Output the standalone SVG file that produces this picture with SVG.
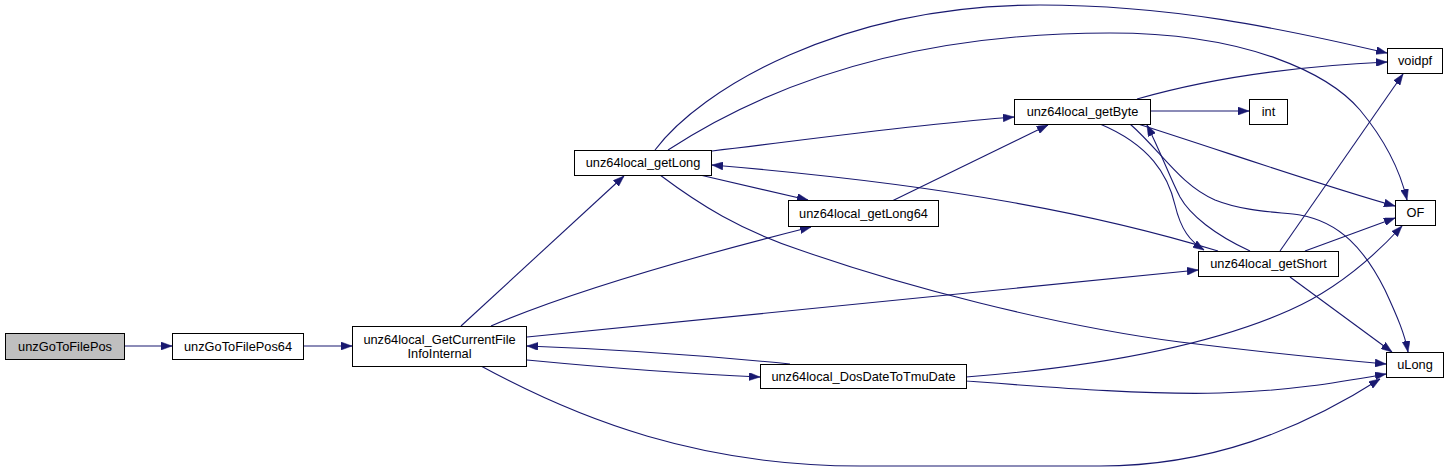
<svg xmlns="http://www.w3.org/2000/svg" width="1449" height="472" viewBox="0 0 1449 472">
<style>
.n rect{fill:#ffffff;stroke:#000000;stroke-width:1}
.n text{font-family:"Liberation Sans",Arial,sans-serif;font-size:12.8px;fill:#000000;text-anchor:middle}
.e path{fill:none;stroke:#191970;stroke-width:1.1}
</style>
<defs>
<marker id="a" markerWidth="11" markerHeight="8" refX="11" refY="4" orient="auto" markerUnits="userSpaceOnUse">
<path d="M0,0 L11,4 L0,8 z" fill="#191970" stroke="#191970" stroke-width="0.5"/>
</marker>
</defs>
<rect width="1449" height="472" fill="#ffffff"/>
<g id="edges" class="e">
<path d="M124,346 L172,346" marker-end="url(#a)"/>
<path d="M304,346 L352,346" marker-end="url(#a)"/>
<path d="M461,326 L624,176" marker-end="url(#a)"/>
<path d="M491,326 C570,292 700,255 811,227" marker-end="url(#a)"/>
<path d="M527,337 L1198,270" marker-end="url(#a)"/>
<path d="M790,364 C700,355 610,349 527,346" marker-end="url(#a)"/>
<path d="M527,360 C610,368 690,374 760,377" marker-end="url(#a)"/>
<path d="M481,366 C580,420 700,466 860,466 L1100,466 C1210,466 1300,430 1380,379" marker-end="url(#a)"/>
<path d="M966,381 C1060,388 1150,395 1220,393 C1290,391 1340,382 1386,374" marker-end="url(#a)"/>
<path d="M966,377 C1080,368 1200,350 1290,310 C1340,288 1380,250 1402,226" marker-end="url(#a)"/>
<path d="M655,150 C700,90 840,5 1040,5 C1170,5 1280,28 1387,53" marker-end="url(#a)"/>
<path d="M668,150 C760,90 900,33 1110,33 C1250,33 1330,75 1360,110 C1385,140 1400,170 1407,200" marker-end="url(#a)"/>
<path d="M712,151 C820,138 920,124 1014,117" marker-end="url(#a)"/>
<path d="M700,175 L808,200" marker-end="url(#a)"/>
<path d="M660,175 C700,205 740,230 800,250 C900,285 1050,325 1180,342 C1260,352 1320,358 1386,364" marker-end="url(#a)"/>
<path d="M892,201 L1048,125" marker-end="url(#a)"/>
<path d="M1150,111 L1249,111" marker-end="url(#a)"/>
<path d="M1137,99 C1210,78 1300,66 1387,62" marker-end="url(#a)"/>
<path d="M1138,124 C1220,150 1320,185 1395,206" marker-end="url(#a)"/>
<path d="M1130,124 C1160,150 1180,185 1215,200 C1245,212 1280,212 1300,215 C1340,222 1365,250 1385,290 C1398,318 1405,335 1408,352" marker-end="url(#a)"/>
<path d="M1100,124 C1150,145 1168,175 1175,205 C1181,230 1190,241 1204,250" marker-end="url(#a)"/>
<path d="M1250,251 C1215,235 1190,215 1180,197 C1170,178 1162,155 1147,125" marker-end="url(#a)"/>
<path d="M1218,251 C1100,215 950,185 712,165" marker-end="url(#a)"/>
<path d="M1280,251 L1403,74" marker-end="url(#a)"/>
<path d="M1305,251 L1395,218" marker-end="url(#a)"/>
<path d="M1290,277 L1392,352" marker-end="url(#a)"/>
</g>
<g id="unzGoToFilePos" class="n"><rect x="5.5" y="333.5" width="119" height="26" style="fill:#bfbfbf"/><text x="65" y="351">unzGoToFilePos</text></g>
<g id="unzGoToFilePos64" class="n"><rect x="172.5" y="333.5" width="131" height="26"/><text x="238" y="351">unzGoToFilePos64</text></g>
<g id="unz64local_GetCurrentFileInfoInternal" class="n"><rect x="352.5" y="326.5" width="174" height="40"/><text x="439.5" y="344">unz64local_GetCurrentFile</text><text x="439.5" y="358">InfoInternal</text></g>
<g id="unz64local_getLong" class="n"><rect x="574.5" y="150.5" width="137" height="25"/><text x="643" y="167">unz64local_getLong</text></g>
<g id="unz64local_getLong64" class="n"><rect x="788.5" y="200.5" width="150" height="26"/><text x="863.5" y="218">unz64local_getLong64</text></g>
<g id="unz64local_getByte" class="n"><rect x="1014.5" y="99.5" width="136" height="25"/><text x="1082.5" y="116">unz64local_getByte</text></g>
<g id="int" class="n"><rect x="1249.5" y="99.5" width="38" height="25"/><text x="1268.5" y="116">int</text></g>
<g id="voidpf" class="n"><rect x="1387.5" y="48.5" width="55" height="25"/><text x="1415" y="65">voidpf</text></g>
<g id="OF" class="n"><rect x="1395.5" y="200.5" width="40" height="25"/><text x="1415.5" y="217">OF</text></g>
<g id="unz64local_getShort" class="n"><rect x="1198.5" y="251.5" width="140" height="25"/><text x="1268.5" y="268">unz64local_getShort</text></g>
<g id="uLong" class="n"><rect x="1386.5" y="352.5" width="57" height="25"/><text x="1415" y="369">uLong</text></g>
<g id="unz64local_DosDateToTmuDate" class="n"><rect x="760.5" y="364.5" width="206" height="24"/><text x="863.5" y="381">unz64local_DosDateToTmuDate</text></g>
</svg>
